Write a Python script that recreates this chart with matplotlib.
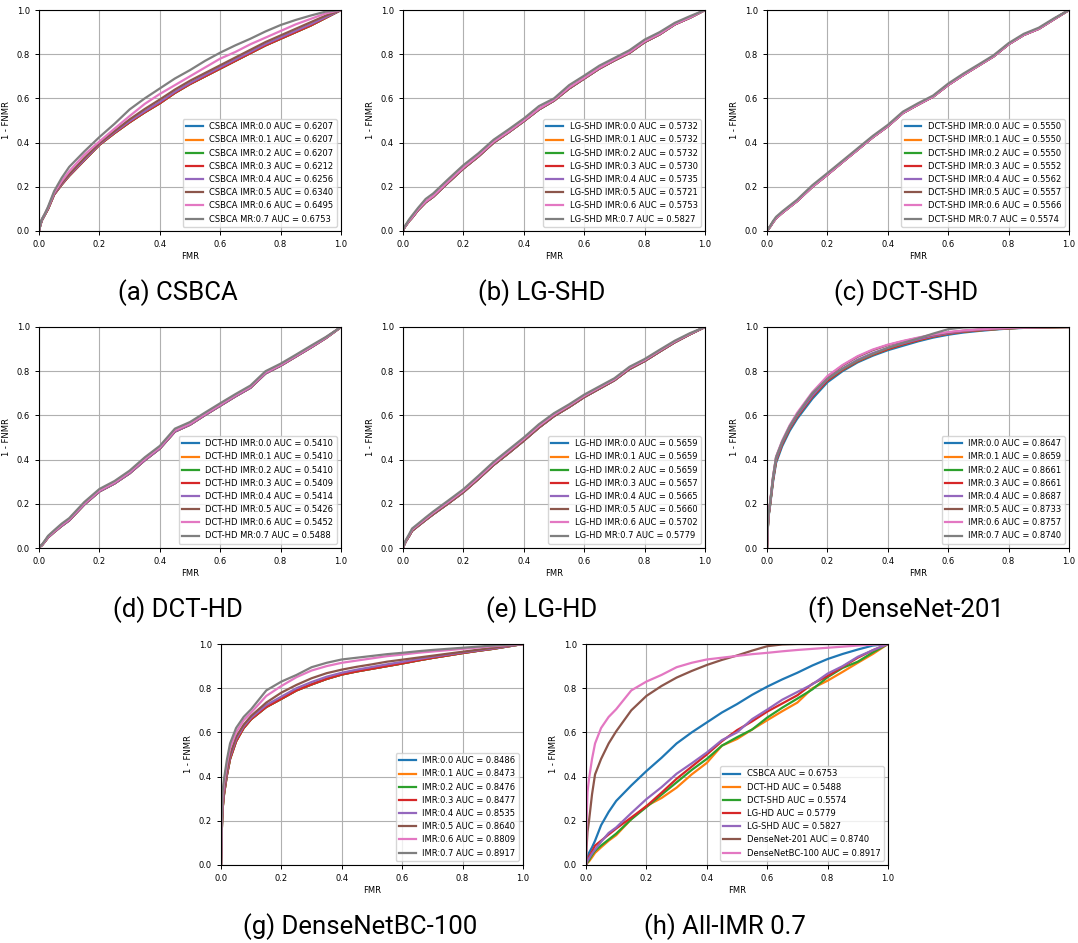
import matplotlib
matplotlib.use("Agg")
import matplotlib.pyplot as plt

# Shared false-match-rate sampling points for every ROC curve
FMR = [0, .002, .005, .01, .02, .03, .05, .075, .1, .15, .2, .25, .3, .35, .4,
       .45, .5, .55, .6, .65, .7, .75, .8, .85, .9, .95, 1]

IMR_LEVELS = ["0.0", "0.1", "0.2", "0.3", "0.4", "0.5", "0.6", "0.7"]

# ---- CSBCA (1 - FNMR) ----
CSBCA_LOW = [0, .012, .03, .05, .075, .1, .165, .21, .25, .32, .39, .443, .492, .537, .578,
             .625, .665, .7, .735, .77, .805, .84, .87, .9, .93, .965, 1]
CSBCA_04 = [0, .012, .03, .05, .076, .102, .167, .213, .253, .323, .393, .447, .497, .542, .584,
            .63, .67, .706, .741, .776, .811, .846, .876, .906, .936, .968, 1]
CSBCA_05 = [0, .013, .031, .052, .078, .104, .17, .217, .257, .33, .397, .452, .505, .552, .595,
            .64, .68, .715, .75, .785, .82, .855, .885, .915, .945, .975, 1]
CSBCA_06 = [0, .014, .033, .054, .079, .106, .173, .225, .27, .345, .405, .463, .52, .575, .62,
            .66, .7, .74, .78, .81, .845, .875, .905, .935, .96, .985, 1]
CSBCA_07 = [0, .015, .035, .055, .08, .11, .18, .24, .29, .36, .425, .485, .55, .6, .645,
            .69, .728, .77, .807, .84, .87, .903, .932, .955, .975, .993, 1]
CSBCA_AUC = [0.6207, 0.6207, 0.6207, 0.6212, 0.6256, 0.6340, 0.6495, 0.6753]

# ---- LG-SHD ----
LGSHD_LOW = [0, .008, .016, .026, .045, .06, .095, .13, .155, .22, .283, .338, .4, .447, .497,
             .55, .59, .645, .69, .735, .772, .806, .855, .89, .935, .965, 1]
LGSHD_06 = [0, .009, .017, .027, .047, .062, .098, .133, .158, .224, .287, .342, .404, .45, .5,
            .553, .593, .649, .693, .738, .775, .809, .858, .892, .936, .966, 1]
LGSHD_07 = [0, .01, .02, .03, .052, .07, .105, .145, .17, .235, .298, .352, .413, .46, .509,
            .565, .6, .66, .703, .748, .783, .818, .866, .9, .942, .972, 1]
LGSHD_AUC = [0.5732, 0.5732, 0.5732, 0.5730, 0.5735, 0.5721, 0.5753, 0.5827]

# ---- DCT-SHD ----
DCTSHD_LOW = [0, .004, .01, .019, .04, .058, .082, .109, .136, .2, .255, .312, .368, .424, .474,
              .534, .572, .608, .661, .706, .748, .79, .845, .887, .915, .958, 1]
DCTSHD_07 = [0, .005, .012, .022, .045, .064, .088, .115, .142, .207, .262, .318, .374, .43, .48,
             .54, .578, .613, .667, .712, .753, .795, .85, .892, .92, .962, 1]
DCTSHD_AUC = [0.5550, 0.5550, 0.5550, 0.5552, 0.5562, 0.5557, 0.5566, 0.5574]

# ---- DCT-HD ----
DCTHD_LOW = [0, .004, .008, .013, .03, .048, .072, .1, .125, .197, .256, .292, .338, .397, .45,
             .527, .558, .602, .644, .686, .725, .79, .825, .866, .907, .95, 1]
DCTHD_MID = [0, .004, .009, .014, .032, .051, .075, .104, .129, .201, .26, .296, .343, .402, .455,
             .532, .562, .606, .648, .69, .729, .794, .828, .869, .91, .952, 1]
DCTHD_07 = [0, .005, .01, .016, .035, .055, .08, .11, .135, .208, .267, .303, .35, .41, .462,
            .54, .57, .613, .655, .696, .735, .8, .834, .874, .915, .955, 1]
DCTHD_AUC = [0.5410, 0.5410, 0.5410, 0.5409, 0.5414, 0.5426, 0.5452, 0.5488]

# ---- LG-HD ----
LGHD_LOW = [0, .008, .018, .032, .054, .078, .1, .127, .153, .202, .253, .313, .376, .43, .486,
            .545, .597, .638, .683, .721, .759, .81, .846, .889, .931, .967, 1]
LGHD_06 = [0, .009, .02, .035, .058, .083, .105, .132, .159, .208, .259, .319, .382, .437, .493,
           .552, .603, .644, .688, .726, .763, .815, .85, .893, .934, .969, 1]
LGHD_07 = [0, .01, .022, .038, .062, .088, .11, .138, .165, .215, .266, .327, .39, .445, .5,
           .56, .61, .65, .694, .731, .768, .82, .855, .897, .938, .972, 1]
LGHD_AUC = [0.5659, 0.5659, 0.5659, 0.5657, 0.5665, 0.5660, 0.5702, 0.5779]

# ---- DenseNet-201 ----
D201_00 = [0, .07, .14, .19, .3, .385, .46, .53, .585, .675, .75, .8, .84, .87, .895,
           .915, .935, .952, .965, .975, .982, .988, .993, .996, .998, .999, 1]
D201_01 = [0, .075, .145, .195, .31, .395, .47, .54, .595, .685, .758, .806, .845, .875, .9,
           .922, .94, .957, .97, .979, .985, .99, .994, .997, .998, .999, 1]
D201_04 = [0, .077, .147, .198, .313, .4, .475, .545, .6, .69, .764, .812, .852, .882, .906,
           .926, .944, .96, .972, .981, .987, .991, .995, .997, .999, 1, 1]
D201_05 = [0, .08, .15, .2, .32, .41, .48, .55, .607, .7, .775, .825, .865, .895, .918,
           .935, .95, .964, .975, .983, .988, .992, .995, .997, .999, 1, 1]
D201_06 = [0, .082, .152, .203, .323, .413, .485, .555, .612, .705, .778, .828, .868, .898, .92,
           .937, .952, .966, .977, .984, .989, .993, .996, .998, .999, 1, 1]
D201_07 = [0, .08, .15, .2, .32, .41, .48, .55, .605, .7, .765, .81, .848, .878, .905,
           .928, .948, .97, .99, .998, 1, 1, 1, 1, 1, 1, 1]
D201_AUC = [0.8647, 0.8659, 0.8661, 0.8661, 0.8687, 0.8733, 0.8757, 0.8740]

# ---- DenseNetBC-100 ----
DBC_LOW = [0, .13, .25, .32, .41, .48, .56, .62, .66, .715, .752, .79, .817, .842, .862,
           .876, .888, .9, .912, .925, .937, .948, .959, .969, .978, .989, 1]
DBC_04 = [0, .14, .26, .33, .42, .49, .57, .628, .667, .724, .762, .8, .828, .852, .87,
          .884, .896, .908, .919, .931, .942, .952, .962, .971, .98, .99, 1]
DBC_05 = [0, .15, .27, .34, .43, .5, .58, .635, .675, .735, .78, .815, .845, .868, .884,
          .897, .908, .92, .929, .938, .947, .956, .965, .974, .983, .992, 1]
DBC_06 = [0, .18, .3, .37, .46, .53, .6, .655, .69, .765, .81, .85, .88, .9, .915,
          .925, .935, .945, .952, .96, .966, .972, .978, .984, .99, .995, 1]
DBC_07 = [0, .2, .33, .39, .48, .55, .62, .67, .705, .79, .83, .86, .895, .915, .93,
          .938, .946, .954, .96, .967, .973, .978, .983, .988, .993, .997, 1]
DBC_AUC = [0.8486, 0.8473, 0.8476, 0.8477, 0.8535, 0.8640, 0.8809, 0.8917]

# ---- All methods at IMR 0.7 ----
ALL_NAMES = ["CSBCA", "DCT-HD", "DCT-SHD", "LG-HD", "LG-SHD", "DenseNet-201", "DenseNetBC-100"]
ALL_CURVES = [CSBCA_07, DCTHD_07, DCTSHD_07, LGHD_07, LGSHD_07, D201_07, DBC_07]
ALL_AUC = [0.6753, 0.5488, 0.5574, 0.5779, 0.5827, 0.8740, 0.8917]


def imr_labels(prefix, aucs, last_tag):
    labels = []
    for i, (lvl, auc) in enumerate(zip(IMR_LEVELS, aucs)):
        tag = last_tag if i == len(IMR_LEVELS) - 1 else "IMR"
        head = f"{prefix} " if prefix else ""
        labels.append(f"{head}{tag}:{lvl} AUC = {auc:.4f}")
    return labels


panels = [
    ("(a) CSBCA", [CSBCA_LOW] * 4 + [CSBCA_04, CSBCA_05, CSBCA_06, CSBCA_07],
     imr_labels("CSBCA", CSBCA_AUC, "MR")),
    ("(b) LG-SHD", [LGSHD_LOW] * 6 + [LGSHD_06, LGSHD_07],
     imr_labels("LG-SHD", LGSHD_AUC, "MR")),
    ("(c) DCT-SHD", [DCTSHD_LOW] * 7 + [DCTSHD_07],
     imr_labels("DCT-SHD", DCTSHD_AUC, "MR")),
    ("(d) DCT-HD", [DCTHD_LOW] * 5 + [DCTHD_MID, DCTHD_MID, DCTHD_07],
     imr_labels("DCT-HD", DCTHD_AUC, "MR")),
    ("(e) LG-HD", [LGHD_LOW] * 6 + [LGHD_06, LGHD_07],
     imr_labels("LG-HD", LGHD_AUC, "MR")),
    ("(f) DenseNet-201", [D201_00, D201_01, D201_01, D201_01, D201_04, D201_05, D201_06, D201_07],
     imr_labels("", D201_AUC, "IMR")),
    ("(g) DenseNetBC-100", [DBC_LOW] * 4 + [DBC_04, DBC_05, DBC_06, DBC_07],
     imr_labels("", DBC_AUC, "IMR")),
    ("(h) All-IMR 0.7", ALL_CURVES,
     [f"{n} AUC = {a:.4f}" for n, a in zip(ALL_NAMES, ALL_AUC)]),
]

W, H = 1078, 943
# (left, top) of each axes box in pixels
boxes = [(39, 10), (403, 10), (767, 10),
         (39, 327), (403, 327), (767, 327),
         (221, 644), (586, 644)]
AX_W, AX_H = 302, 221
CAPTION_DY = 62

fig = plt.figure(figsize=(W / 100, H / 100), dpi=100)
colors = plt.rcParams["axes.prop_cycle"].by_key()["color"]

for (caption, curves, labels), (left, top) in zip(panels, boxes):
    ax = fig.add_axes([left / W, 1 - (top + AX_H) / H, AX_W / W, AX_H / H])
    for k, (ys, lab) in enumerate(zip(curves, labels)):
        ax.plot(FMR, ys, color=colors[k], lw=1.6, label=lab)
    ax.set_xlim(0, 1)
    ax.set_ylim(0, 1)
    ax.grid(True, color="#b0b0b0", lw=0.8)
    ax.tick_params(labelsize=6, width=0.7, length=3)
    ax.set_xlabel("FMR", fontsize=6, labelpad=2)
    ax.set_ylabel("1 - FNMR", fontsize=6)
    ax.legend(loc="lower right", fontsize=6)
    cx = (left + AX_W / 2 - 12) / W
    cy = 1 - (top + AX_H + CAPTION_DY) / H
    fig.text(cx, cy, caption, ha="center", va="center", fontsize=18.5,
             family=["Roboto", "DejaVu Sans"])

fig.savefig("out.png", dpi=100)
